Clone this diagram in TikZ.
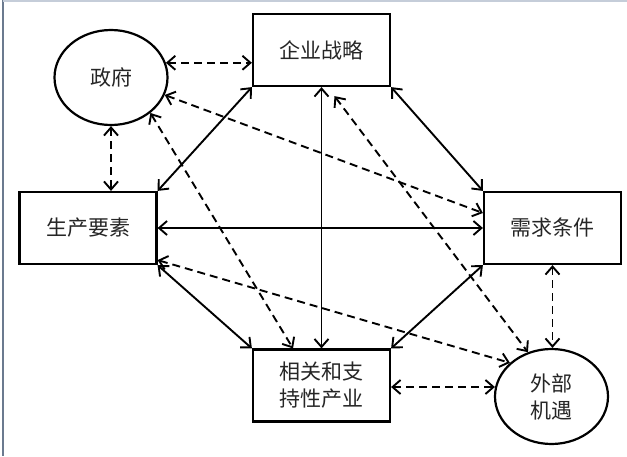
\documentclass[tikz,border=0pt]{standalone}
\usepackage{fontspec}
\setmainfont{Noto Sans CJK SC}
\usetikzlibrary{arrows.meta,calc,shapes.geometric}
\definecolor{frameL}{HTML}{6B7A8F}
\definecolor{frameT}{HTML}{C5CDD9}
\begin{document}
\begin{tikzpicture}[x=1pt,y=-1pt,
  txt/.style={font=\fontsize{21}{27}\selectfont,align=center,text=black!85},
  box/.style={txt,draw,line width=2.2pt,minimum width=137pt,minimum height=72pt,inner sep=0pt},
  oval/.style={txt,draw,ellipse,line width=2.2pt,minimum width=113pt,minimum height=95pt,inner sep=0pt},
  link/.style={line width=1.9pt,{Straight Barb[length=8pt,width=14pt]}-{Straight Barb[length=8pt,width=14pt]}},
  dlink/.style={link,dash pattern=on 8pt off 5pt}]
\useasboundingbox[fill=white] (0,0) rectangle (627,456);
\draw[frameL,line width=1.2pt] (3,0) -- (3,456);
\draw[frameT,line width=1.2pt] (3,1) -- (627,1);

\node[oval] (zf) at (111,77.5) {政府};
\node[box] (qy) at (321.5,50) {企业战略};
\node[box] (sc) at (88,228) {生产要素};
\node[box] (xq) at (552.5,228) {需求条件};
\node[box] (xg) at (321.5,385.5) {相关和支\\持性产业};
\node[oval] (wb) at (551.5,396.5) {外部\\机遇};

% solid connectors
\draw[link] (qy.south west) -- (sc.north east);
\draw[link] (qy.south) -- (xg.north);
\draw[link] (qy.south east) -- (xq.north west);
\draw[link] (sc.east) -- (xq.west);
\draw[link] (sc.south east) -- (xg.north west);
\draw[link] (xq.south west) -- (xg.north east);

% dashed connectors
\draw[dlink] (zf.15) -- (qy.west |- zf.15);
\draw[dlink] (zf.south) -- (sc.north -| zf.south);
\draw[dlink] (zf.-18) -- ($(xq.west)+(0,-15)$);
\draw[dlink] (zf.-42) -- ($(xg.north)+(-28.5,0)$);
\draw[dlink] ($(qy.south)+(13,9)$) -- (wb.118);
\draw[dlink] ($(sc.south east)+(0,-5)$) -- (wb.141);
\draw[dlink] (xq.south) -- (xq.south |- wb.north);
\draw[dlink] ($(xg.east)+(0,1.5)$) -- ($(xg.east -| wb.west)+(1,1.5)$);
\end{tikzpicture}
\end{document}
